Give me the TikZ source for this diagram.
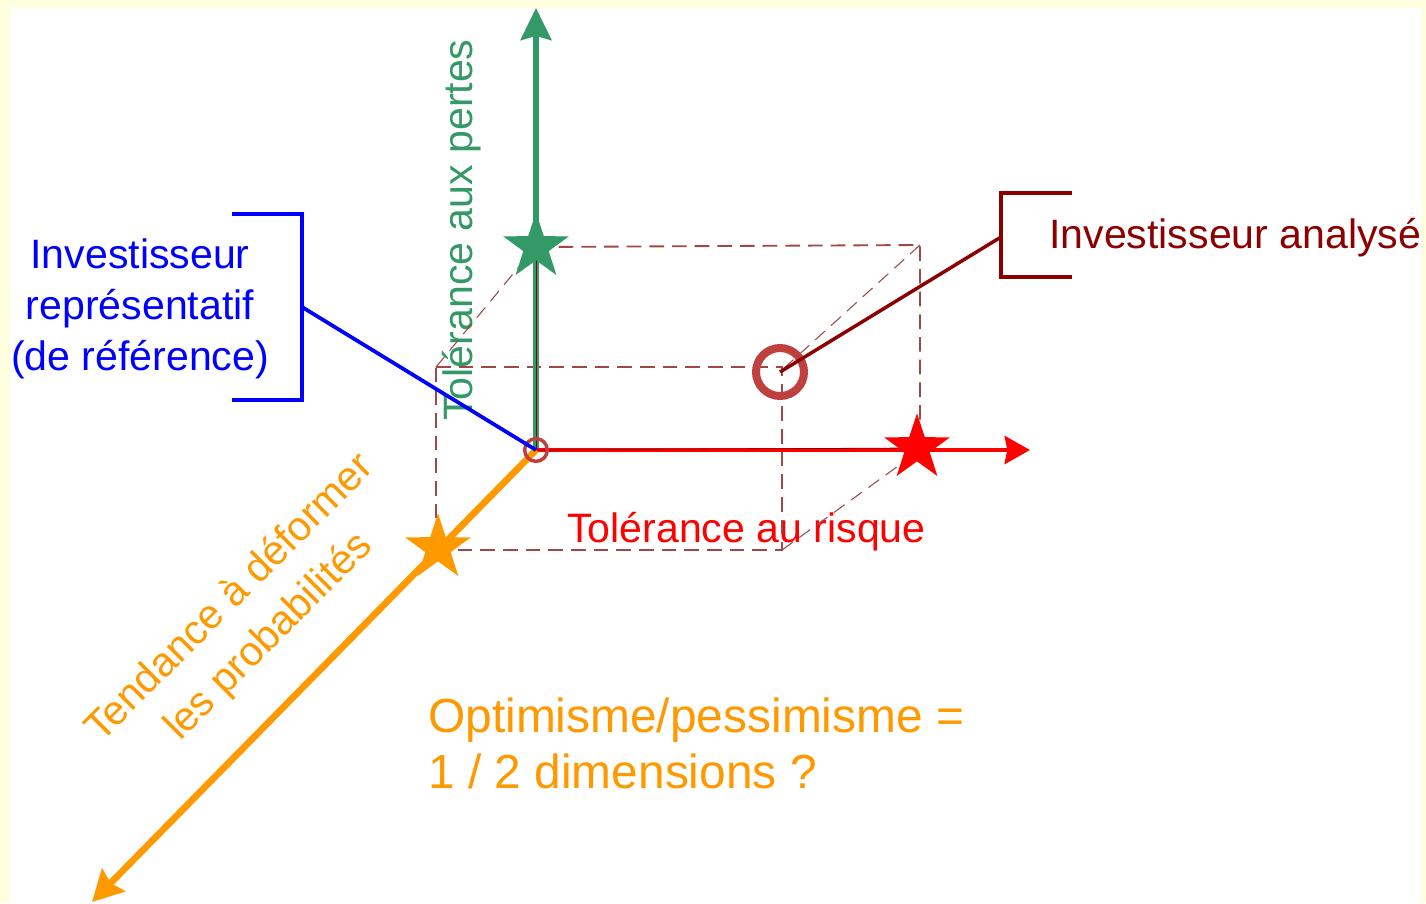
\documentclass[tikz,border=0pt]{standalone}
\usepackage{fontspec}
\setmainfont{Liberation Sans}
\usetikzlibrary{arrows.meta,shapes.geometric}
\definecolor{bgyellow}{HTML}{FFFFE0}
\definecolor{axgreen}{HTML}{339966}
\definecolor{axorange}{HTML}{FF9900}
\definecolor{axred}{HTML}{FF0000}
\definecolor{axblue}{HTML}{0000FF}
\definecolor{dred}{HTML}{8B0000}
\definecolor{circred}{HTML}{C04040}
\definecolor{dashred}{HTML}{A04848}
\begin{document}
\begin{tikzpicture}[x=0.75pt,y=-0.75pt,
  starshape/.style={star,star points=5,star point ratio=2.6,minimum size=52pt,inner sep=0pt,draw=none},
  boxline/.style={dashred,line width=1.4pt,dash pattern=on 11pt off 6pt},
  diagline/.style={dashred,line width=0.8pt,dash pattern=on 10pt off 6pt},
  lbl/.style={inner sep=0pt,font=\fontsize{30.8pt}{38.25pt}\selectfont},
  bracket/.style={line width=2.6pt,line join=miter}]
\useasboundingbox (0,0) rectangle (1426,903);
\fill[bgyellow] (0,0) rectangle (1426,903);
\fill[white] (10,8) rectangle (1421,903);

% key points
\coordinate (O) at (536,450);
\coordinate (gtip) at (536,8);
\coordinate (rtip) at (1030,450);
\coordinate (otip) at (92,902);
\coordinate (ftl) at (436,367);
\coordinate (fbl) at (436,550);
\coordinate (fbr) at (782,550);
\coordinate (btr) at (920,245);
\coordinate (ftr) at (782,367);

% texts
\node[lbl,axgreen,rotate=90,anchor=base] (tpertes) at (472,230) {Tolérance aux pertes};
\node[lbl,axred,anchor=base west] (trisque) at (567,542) {Tolérance au risque};
\node[lbl,dred,anchor=base west] (tanalyse) at (1049,248) {Investisseur analysé};
\node[lbl,axblue,align=center,anchor=base] (trepr) at (140,370) {Investisseur\\représentatif\\(de référence)};
\node[lbl,axorange,align=center,rotate=45,font=\fontsize{30.8pt}{41pt}\selectfont] (tproba) at (250,618) {Tendance à déformer\\les probabilités};
\node[inner sep=0pt,axorange,align=left,anchor=base west,font=\fontsize{35.9pt}{42pt}\selectfont] (toptim) at (428,788) {Optimisme/pessimisme =\\1 / 2 dimensions ?};

% stars (positions)
\coordinate (gs) at (536,247);
\coordinate (rs) at (917,448);
\coordinate (os) at (438,548);

% dashed box
\draw[boxline] (gs) -- (btr) -- (920,450);
\draw[boxline] (ftl) -- (ftr) -- (fbr) -- (fbl) -- cycle;
\draw[diagline] (ftl) -- (527,257);
\draw[diagline] (btr) -- (782,370);
\draw[diagline] (fbr) -- (905,461);

% axes
\draw[axgreen,line width=4.2pt,-{Stealth[length=24pt,width=23pt,inset=3pt]}] (O) -- (gtip);
\draw[dred,line width=0.7pt] (O) -- (gs);
\draw[axred,line width=3.3pt,-{Stealth[length=19pt,width=21pt,inset=2pt]}] (O) -- (rtip);
\draw[dred,line width=0.6pt] (O) -- (rs);
\draw[axorange,line width=5pt,-{Stealth[length=23pt,width=24pt,inset=3pt]}] (O) -- (otip);

\node[starshape,fill=axgreen] (sg) at (gs) {};
\node[starshape,fill=axred] (sr) at (rs) {};
\node[starshape,fill=axorange] (so) at (os) {};

% circles
\node[circle,draw=circred,line width=2.6pt,minimum size=17pt,inner sep=0pt] (cO) at (O) {};
\node[circle,draw=circred,line width=6pt,minimum size=36pt,inner sep=0pt] (cA) at (780,372) {};

% blue bracket and connector
\coordinate (bt1) at (232,214);
\coordinate (bt2) at (302,214);
\coordinate (bb2) at (302,400);
\coordinate (bb1) at (232,400);
\coordinate (bm) at (302,307);
\draw[axblue,bracket] (bt1) -- (bt2) -- (bb2) -- (bb1);
\draw[axblue,line width=2.8pt] (bm) -- (O);

% dark red bracket and connector
\coordinate (rt1) at (1072,193);
\coordinate (rt2) at (1001,193);
\coordinate (rb2) at (1001,277);
\coordinate (rb1) at (1072,277);
\coordinate (rm) at (1001,237);
\draw[dred,bracket] (rt1) -- (rt2) -- (rb2) -- (rb1);
\draw[dred,line width=2.6pt] (rm) -- (cA.center);
\end{tikzpicture}
\end{document}
